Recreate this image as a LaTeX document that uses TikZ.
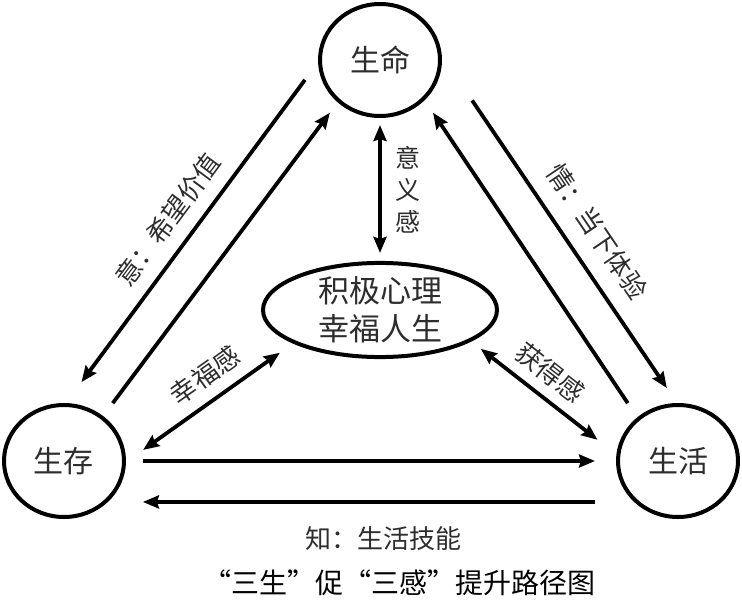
\documentclass[tikz,border=0pt]{standalone}
\usepackage{fontspec}
\setmainfont{Noto Sans CJK SC}
\usepackage{xcolor}
\usepackage{tikz}
\usetikzlibrary{arrows.meta,shapes.geometric}
\definecolor{inkgray}{RGB}{45,45,45}

\begin{document}
\begin{tikzpicture}[x=1pt, y=-1pt,
    >={Stealth[length=16pt, width=13pt, inset=2pt]},
    stage/.style={draw, ellipse, line width=4pt, minimum width=120pt, minimum height=112pt, inner sep=0pt, text=inkgray, font=\fontsize{30}{36}\selectfont},
    hubnode/.style={draw, ellipse, line width=4pt, minimum width=234pt, minimum height=90pt, inner sep=0pt, align=center, text=inkgray, font=\fontsize{31}{38}\selectfont},
    link/.style={line width=3.8pt, ->},
    twoway/.style={line width=3.8pt, <->},
    tag/.style={inner sep=0pt, text=inkgray, font=\fontsize{26}{32}\selectfont},
]
    \useasboundingbox (0,0) rectangle (742,616);

    % Three circles and the centre
    \node[stage] (life) at (380,60) {生命};
    \node[stage] (surv) at (64,461) {生存};
    \node[stage] (liv) at (678,461) {生活};
    \node[hubnode] (hub) at (380,310) {积极心理\\幸福人生};

    % Left pair
    \draw[link, shorten <=22pt, shorten >=26pt] (life.182) -- node[sloped, pos=.51, above=13pt, tag] {意：希望价值} (surv.88);
    \draw[link, shorten <=16pt, shorten >=13pt] (surv.49) -- (life.225);

    % Right pair
    \draw[link, shorten <=17pt, shorten >=15pt] (liv.133) -- (life.318);
    \draw[link, shorten <=54pt, shorten >=18pt] (life.4) -- node[sloped, pos=.555, above=16pt, tag] {情：当下体验} (liv.91);

    % Towards the centre
    \draw[twoway, shorten <=7pt, shorten >=8pt] (life.south) -- node[right=14pt, tag, align=center, font=\fontsize{25}{32}\selectfont] {意\\义\\感} (hub.north);
    \draw[twoway, shorten <=21pt, shorten >=16pt] (surv.359) -- node[sloped, pos=.56, above=11pt, tag] {幸福感} (hub.201);
    \draw[twoway, shorten <=12pt, shorten >=24pt] (hub.341) -- node[sloped, pos=.44, above=10pt, tag] {获得感} (liv.174);

    % Bottom pair
    \draw[link, shorten <=17pt, shorten >=21pt] (surv.east) -- (liv.west);
    \draw[link, shorten <=39pt, shorten >=35pt] (liv.223) -- node[pos=.477, below=23pt, tag] {知：生活技能} (surv.317);

    % Caption
    \node[tag, text=black, font=\fontsize{28}{32}\selectfont] (title) at (399,583) {“三生”促“三感”提升路径图};
\end{tikzpicture}
\end{document}
